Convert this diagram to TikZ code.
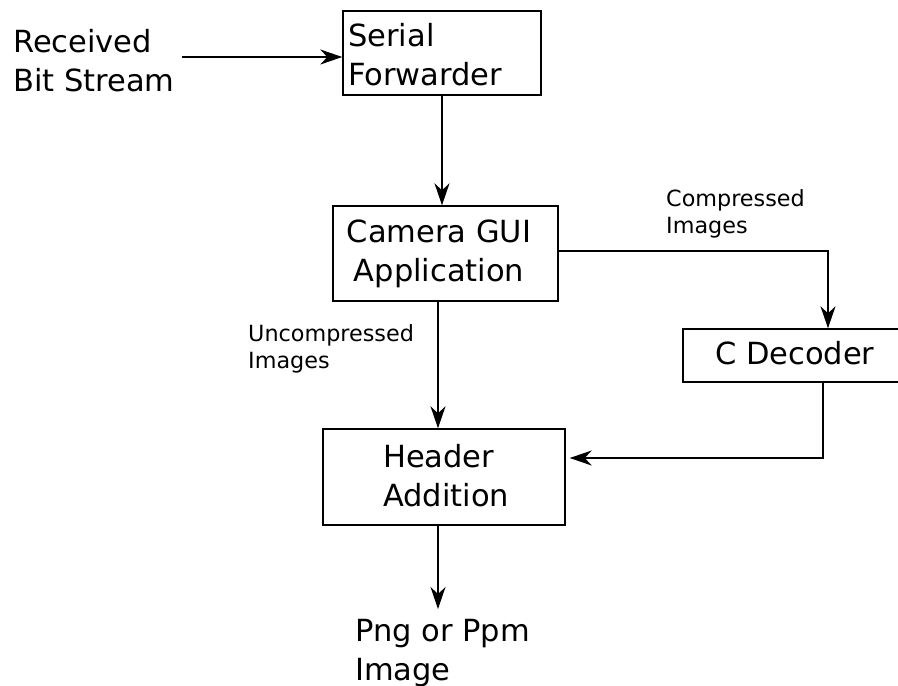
\documentclass[tikz,border=0pt]{standalone}
\usepackage{fontspec}
\setmainfont{DejaVu Sans}
\usetikzlibrary{arrows.meta}
\begin{document}
\begin{tikzpicture}[x=1pt,y=-1pt,
  box/.style={draw=black, line width=1.4pt, inner sep=0pt, minimum width=#1},
  big/.style={inner sep=0pt, font=\fontsize{30.5}{39}\selectfont},
  small/.style={inner sep=0pt, font=\fontsize{22.3}{27}\selectfont},
  arr/.style={draw=black, line width=1.4pt,
    -{Stealth[length=22pt, width=15pt, inset=7pt]}}]
\useasboundingbox (0,0) rectangle (898,686);
\clip (0,0) rectangle (898,686);

% blocks
\node[box=198, minimum height=84] (sf)  at (442,53)    {};
\node[box=225, minimum height=95] (cam) at (445.5,253.5) {};
\node[box=222, minimum height=53] (dec) at (794,355.5) {};
\node[box=242, minimum height=96] (hdr) at (444,477)   {};

% block texts (base anchor = baseline of the last line)
\node[big, anchor=base west, align=left]   (sftxt)  at (348,85)  {Serial\\Forwarder};
\node[big, anchor=base, align=center]      (camtxt) at (439,281) {Camera GUI\\Application};
\node[big, anchor=base west]               (dectxt) at (715,364) {C Decoder};
\node[big, anchor=base west, align=left]   (hdrtxt) at (383,506) {Header\\Addition};

% free texts
\node[big, anchor=base west, align=left]   (src)   at (13,91)   {Received\\Bit Stream};
\node[big, anchor=base west, align=left]   (png)   at (355,680) {Png or Ppm\\Image};
\node[small, anchor=base west, align=left] (comp)  at (666,233) {Compressed\\Images};
\node[small, anchor=base west, align=left] (ucomp) at (248,368) {Uncompressed\\Images};

% connector bends and free ends
\coordinate (in)  at (182,57);
\coordinate (c1)  at (828,251);
\coordinate (ux)  at (438,0);
\coordinate (d1)  at (823,458);
\coordinate (out) at (438,609);

% connectors
\draw[arr] (in) -- (in -| sf.west);
\draw[arr] (sf.south) -- (sf.south |- cam.north);
\draw[arr] (cam.east |- c1) -- (c1) -- (c1 |- dec.north);
\draw[arr] (cam.south -| ux) -- (hdr.north -| ux);
\draw[arr, shorten >=4pt] (d1 |- dec.south) -- (d1) -- (d1 -| hdr.east);
\draw[arr] (hdr.south -| out) -- (out);
\end{tikzpicture}
\end{document}
